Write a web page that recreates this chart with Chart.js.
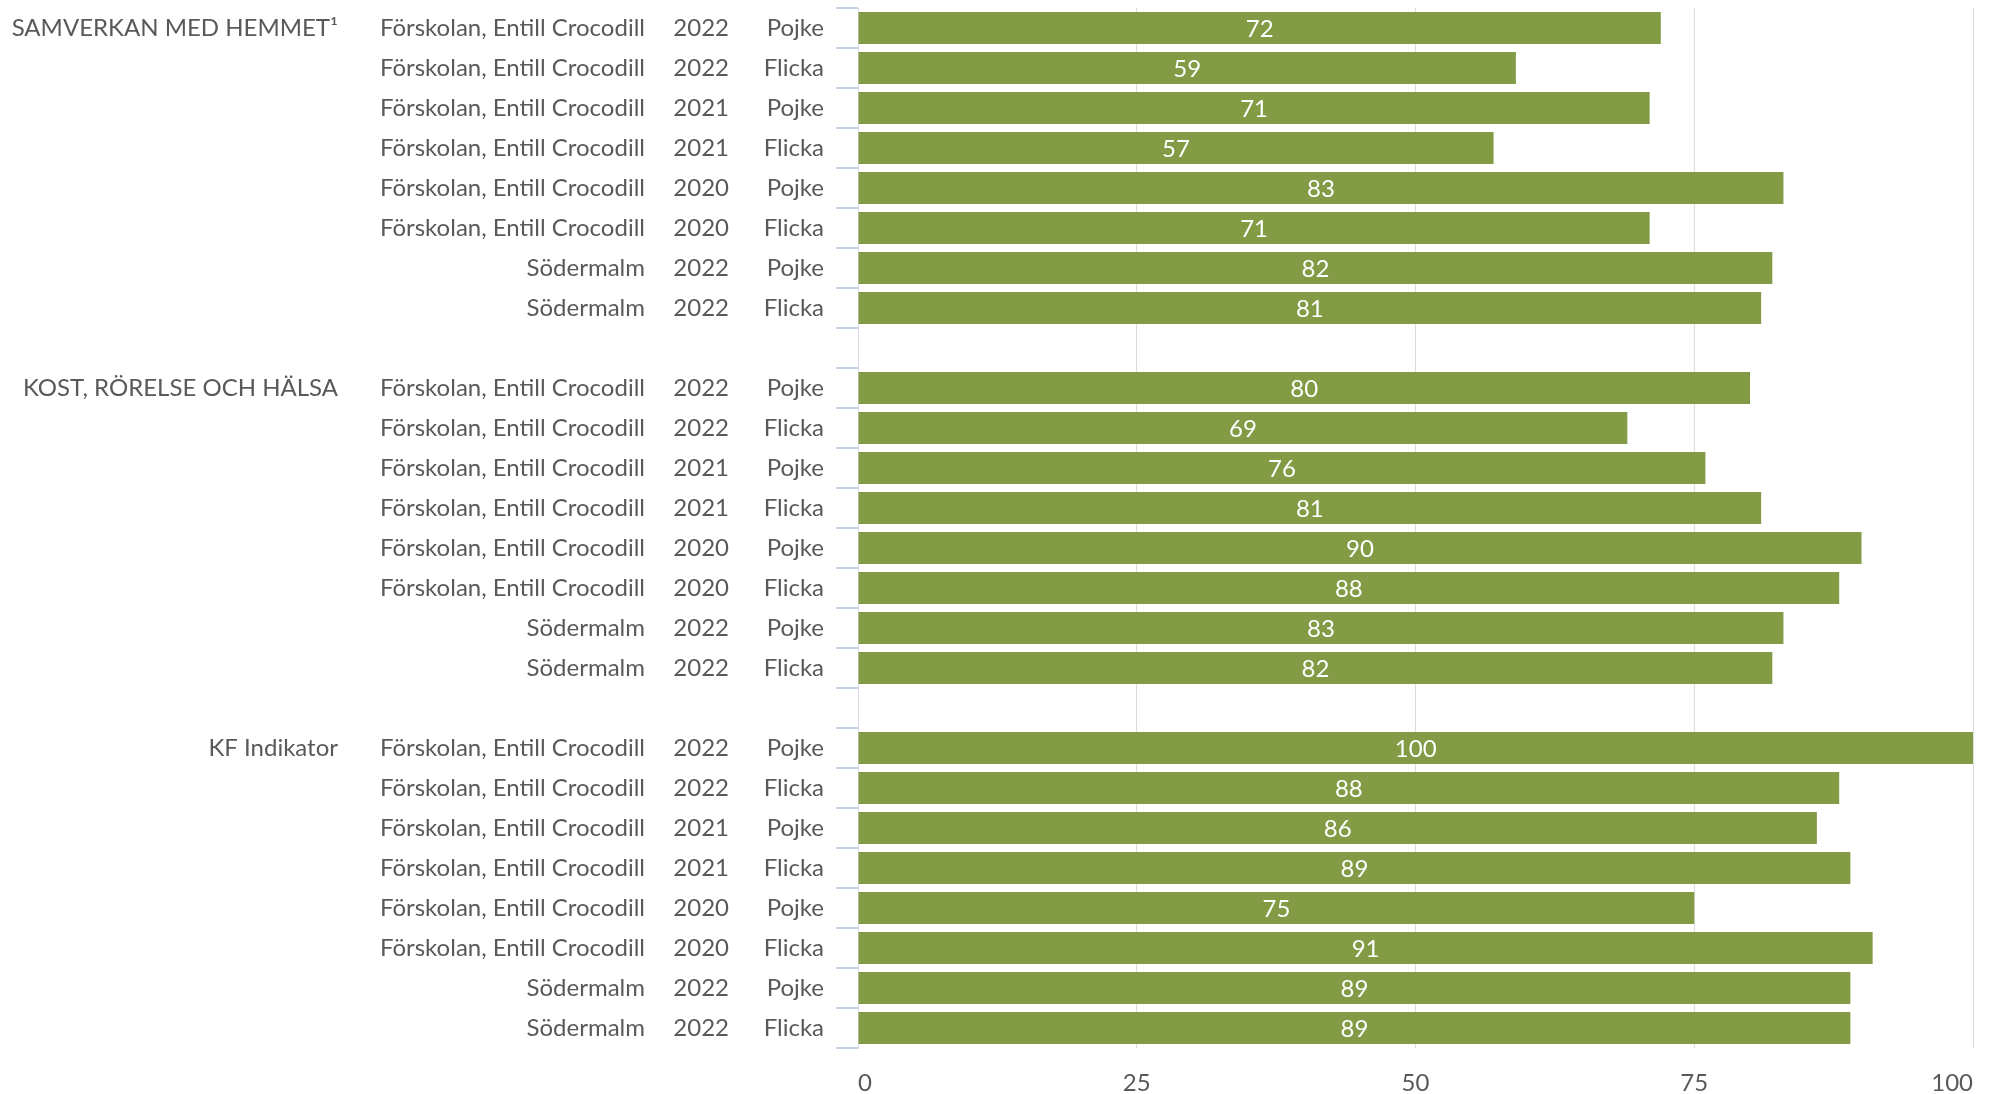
<!DOCTYPE html>
<html>
<head>
<meta charset="utf-8">
<script src="https://cdn.jsdelivr.net/npm/chart.js@4.4.1/dist/chart.umd.min.js"></script>
<style>
  html, body { margin: 0; padding: 0; background: #fff; }
  #wrap { width: 1990px; height: 1094px; position: relative; }
</style>
</head>
<body>
<div id="wrap"><canvas id="chart"></canvas></div>
<script>
// data
const groups = ["SAMVERKAN MED HEMMET\u00B9", "KOST, RÖRELSE OCH HÄLSA", "KF Indikator"];
const schools = ["Förskolan, Entill Crocodill", "Förskolan, Entill Crocodill", "Förskolan, Entill Crocodill",
  "Förskolan, Entill Crocodill", "Förskolan, Entill Crocodill", "Förskolan, Entill Crocodill",
  "Södermalm", "Södermalm"];
const years = ["2022", "2022", "2021", "2021", "2020", "2020", "2022", "2022"];
const genders = ["Pojke", "Flicka", "Pojke", "Flicka", "Pojke", "Flicka", "Pojke", "Flicka"];
const samverkan = [72, 59, 71, 57, 83, 71, 82, 81];
const kost = [80, 69, 76, 81, 90, 88, 83, 82];
const kfIndikator = [100, 88, 86, 89, 75, 91, 89, 89];
const xTicks = [0, 25, 50, 75, 100];

const groupValues = [samverkan, kost, kfIndikator];

// build the rows, blank row between groups
const groupLabels = [], schoolLabels = [], yearLabels = [], genderLabels = [], values = [];
groups.forEach((g, gi) => {
  if (gi > 0) {
    groupLabels.push(""); schoolLabels.push(""); yearLabels.push(""); genderLabels.push(""); values.push(null);
  }
  groupValues[gi].forEach((v, i) => {
    groupLabels.push(i === 0 ? g : "");
    schoolLabels.push(schools[i]);
    yearLabels.push(years[i]);
    genderLabels.push(genders[i]);
    values.push(v);
  });
});

const FONT = "Lato";
const SIZE = 24;
const TEXT = "#595959";

// fixed width, no extra top/bottom padding from labels
function fixWidth(width) {
  return s => { s.width = width; s.paddingTop = 0; s.paddingBottom = 0; };
}

function labelAxis(labels, weight, width, padding) {
  return {
    type: "category",
    position: "left",
    labels: labels,
    weight: weight,
    offset: true,
    grid: { display: false, drawTicks: false, offset: true },
    border: { display: false },
    ticks: { autoSkip: false, padding: padding, crossAlign: "near", color: TEXT, font: { family: FONT, size: SIZE } },
    afterFit: fixWidth(width)
  };
}

// white value labels in the middle of each bar
const barLabels = {
  id: "barLabels",
  afterDatasetsDraw(chart) {
    const ctx = chart.ctx;
    const meta = chart.getDatasetMeta(0);
    ctx.save();
    ctx.fillStyle = "#ffffff";
    ctx.font = SIZE + "px " + FONT;
    ctx.textAlign = "center";
    ctx.textBaseline = "middle";
    meta.data.forEach((bar, i) => {
      const v = chart.data.datasets[0].data[i];
      if (v == null) return;
      ctx.fillText(String(v), (bar.base + bar.x) / 2, bar.y + 1);
    });
    ctx.restore();
  }
};

new Chart(document.getElementById("chart"), {
  type: "bar",
  data: {
    labels: genderLabels,
    datasets: [{
      data: values,
      backgroundColor: "#829b44",
      borderWidth: 0,
      barPercentage: 0.8,
      categoryPercentage: 1.0
    }]
  },
  options: {
    indexAxis: "y",
    responsive: true,
    maintainAspectRatio: false,
    animation: false,
    devicePixelRatio: 1,
    layout: { padding: { left: 0, right: 17, top: 8, bottom: 0 } },
    plugins: { legend: { display: false }, tooltip: { enabled: false } },
    scales: {
      x: {
        type: "linear",
        min: 0,
        max: 100,
        afterBuildTicks: s => { s.ticks = xTicks.map(v => ({ value: v })); },
        grid: { color: "#dcdcdc", lineWidth: 1, drawTicks: false },
        border: { display: false },
        ticks: { padding: 21, align: "inner", color: TEXT, font: { family: FONT, size: SIZE } },
        afterFit: s => { s.height = 46; s.paddingLeft = 0; s.paddingRight = 0; }
      },
      y: {
        type: "category",
        position: "left",
        weight: 0,
        offset: true,
        grid: { offset: true, drawOnChartArea: false, drawTicks: true, tickLength: 22, color: "#c6d3ea", lineWidth: 2 },
        border: { display: true, color: "#d9dde8", width: 1 },
        ticks: { autoSkip: false, padding: 12, crossAlign: "near", color: TEXT, font: { family: FONT, size: SIZE } },
        afterFit: fixWidth(118)
      },
      yYear: labelAxis(yearLabels, 1, 80, 11),
      ySchool: labelAxis(schoolLabels, 2, 310, 15),
      yGroup: labelAxis(groupLabels, 3, 350, 12)
    }
  },
  plugins: [barLabels]
});
</script>
</body>
</html>
